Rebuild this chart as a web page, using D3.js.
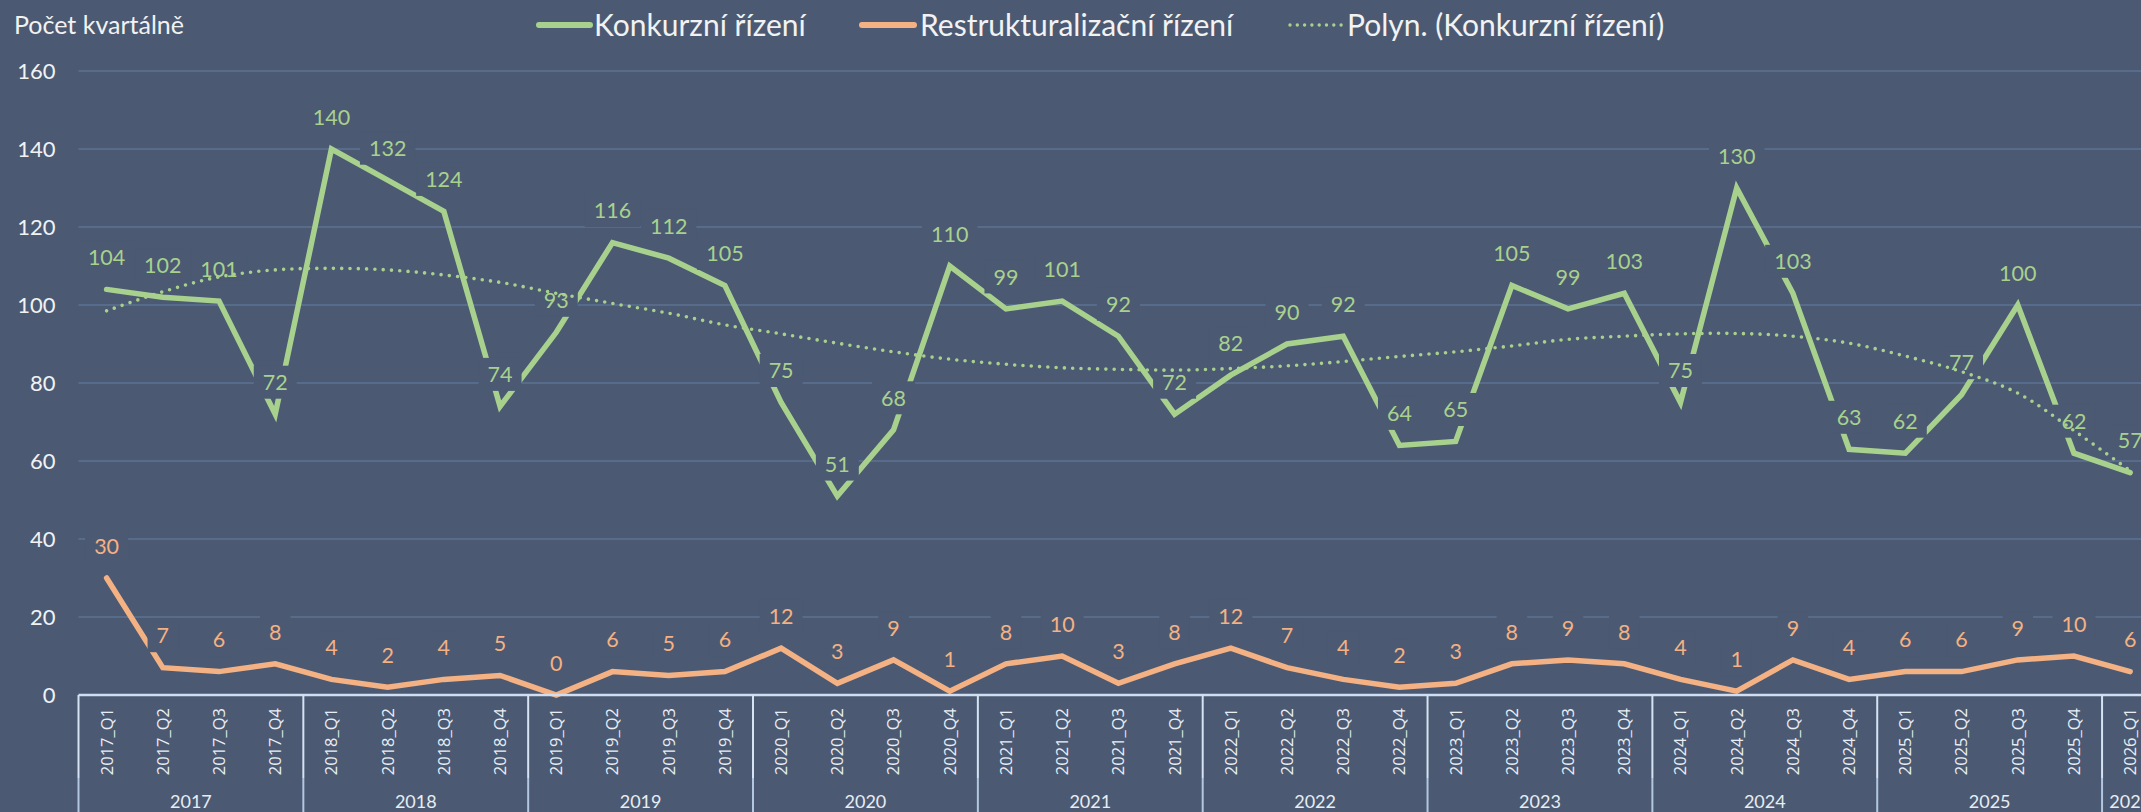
<!DOCTYPE html>
<html>
<head>
<meta charset="utf-8">
<script src="https://cdn.jsdelivr.net/npm/d3@7"></script>
<style>
  html, body { margin: 0; padding: 0; background: #4b5a72; overflow: hidden; }
  svg { display: block; }
  text { font-family: Lato, "Open Sans", sans-serif; }
</style>
</head>
<body>
<svg width="2141" height="812"></svg>
<script>
/* global d3 */

const quarters = [
  '2017_Q1', '2017_Q2', '2017_Q3', '2017_Q4',
  '2018_Q1', '2018_Q2', '2018_Q3', '2018_Q4',
  '2019_Q1', '2019_Q2', '2019_Q3', '2019_Q4',
  '2020_Q1', '2020_Q2', '2020_Q3', '2020_Q4',
  '2021_Q1', '2021_Q2', '2021_Q3', '2021_Q4',
  '2022_Q1', '2022_Q2', '2022_Q3', '2022_Q4',
  '2023_Q1', '2023_Q2', '2023_Q3', '2023_Q4',
  '2024_Q1', '2024_Q2', '2024_Q3', '2024_Q4',
  '2025_Q1', '2025_Q2', '2025_Q3', '2025_Q4',
  '2026_Q1',
];

const yearGroups = ['2017', '2018', '2019', '2020', '2021', '2022', '2023', '2024', '2025', '2026'];

const konkurz = [
  104, 102, 101, 72,
  140, 132, 124, 74,
  93, 116, 112, 105,
  75, 51, 68, 110,
  99, 101, 92, 72,
  82, 90, 92, 64,
  65, 105, 99, 103,
  75, 130, 103, 63,
  62, 77, 100, 62,
  57,
];

const restrukt = [
  30, 7, 6, 8,
  4, 2, 4, 5,
  0, 6, 5, 6,
  12, 3, 9, 1,
  8, 10, 3, 8,
  12, 7, 4, 2,
  3, 8, 9, 8,
  4, 1, 9, 4,
  6, 6, 9, 10,
  6,
];

// polynomial trendline of Konkurzní řízení
const trend = [
  98.5, 103.4, 107.2, 109, 109.4, 109, 107.7, 105.8,
  103, 100.4, 97.9, 94.9, 92.6, 90.2, 88, 86.1,
  84.8, 83.9, 83.5, 83.3, 83.7, 84.4, 85.5, 86.8,
  88, 89.5, 91.2, 92, 92.6, 92.7, 92, 90.2,
  86.9, 82.9, 77.4, 67.8, 57.5,
];

const yTicks = [0, 20, 40, 60, 80, 100, 120, 140, 160];

const seriesNames = ['Konkurzní řízení', 'Restrukturalizační řízení', 'Polyn. (Konkurzní řízení)'];

const BG = '#4b5a72';
const GREEN = '#a9d18e';
const ORANGE = '#f4b183';
const GRID = '#576c8b';
const AXIS = '#cfdff1';

const svg = d3.select('svg');

const left = 78.5;
const step = 56.21;
const x = d3.scaleBand()
      .domain(quarters)
      .range([left, left + quarters.length * step])
      .padding(0);
const y = d3.scaleLinear().domain([0, 160]).range([695, 71]);
const cx = d => x(d) + x.bandwidth() / 2;

// title
svg.append('text')
      .attr('x', 14)
      .attr('y', 25)
      .attr('dy', '0.36em')
      .style('font-size', '25px')
      .style('fill', '#f2f2f2')
      .text('Počet kvartálně');

// gridlines
svg.append('g')
      .selectAll('line')
      .data(yTicks.filter(d => d > 0))
      .enter()
      .append('line')
      .attr('x1', left)
      .attr('x2', 2141)
      .attr('y1', d => y(d))
      .attr('y2', d => y(d))
      .style('stroke', GRID)
      .style('stroke-width', '2px');

// y axis labels
const yAxis = svg.append('g')
      .attr('transform', `translate(${left},0)`)
      .call(d3.axisLeft(y).tickValues(yTicks).tickSize(0).tickPadding(23));
yAxis.select('.domain').remove();
yAxis.selectAll('text')
      .style('font-family', 'Lato, sans-serif')
      .style('font-size', '22px')
      .style('fill', '#f2f2f2');

// lines
const line = d3.line()
      .x((d, i) => cx(quarters[i]))
      .y(d => y(d));

svg.append('path')
      .datum(konkurz)
      .attr('d', line)
      .style('fill', 'none')
      .style('stroke', GREEN)
      .style('stroke-width', '5.5px')
      .style('stroke-linecap', 'round')
      .style('stroke-linejoin', 'miter');

svg.append('path')
      .datum(restrukt)
      .attr('d', line)
      .style('fill', 'none')
      .style('stroke', ORANGE)
      .style('stroke-width', '5.5px')
      .style('stroke-linecap', 'round')
      .style('stroke-linejoin', 'miter');

// data labels with background boxes
function addLabels(values, color) {
  const g = svg.append('g');
  values.forEach((v, i) => {
    const lx = cx(quarters[i]);
    const ly = y(v) - 32;
    const box = g.append('rect');
    const t = g.append('text')
          .attr('x', lx)
          .attr('y', ly)
          .attr('dy', '0.36em')
          .style('text-anchor', 'middle')
          .style('font-size', '21.5px')
          .style('fill', color)
          .text(v);
    const w = t.node().getComputedTextLength() + 18;
    box.attr('x', lx - w / 2)
          .attr('y', ly - 16.5)
          .attr('width', w)
          .attr('height', 33)
          .style('fill', BG);
  });
}
addLabels(konkurz, GREEN);
addLabels(restrukt, ORANGE);

// trendline
svg.append('path')
      .datum(trend)
      .attr('d', line.curve(d3.curveCatmullRom))
      .style('fill', 'none')
      .style('stroke', GREEN)
      .style('stroke-width', '3.6px')
      .style('stroke-linecap', 'round')
      .style('stroke-dasharray', '0 8.3');

// x axis: quarters
const xAxis = svg.append('g')
      .attr('transform', 'translate(0,695)')
      .call(d3.axisBottom(x).tickSize(0));
xAxis.select('.domain').remove();
xAxis.selectAll('text')
      .attr('transform', 'rotate(-90)')
      .attr('x', -13)
      .attr('y', 0)
      .attr('dy', '0.36em')
      .style('text-anchor', 'end')
      .style('font-family', '"Open Sans", sans-serif')
      .style('font-size', '16.5px')
      .style('fill', '#e8edf4');

// axis line
svg.append('line')
      .attr('x1', left)
      .attr('x2', 2141)
      .attr('y1', 695)
      .attr('y2', 695)
      .style('stroke', AXIS)
      .style('stroke-width', '2.5px');

// year groups
const groups = yearGroups.map((yr) => {
  const qs = quarters.filter(q => q.startsWith(yr));
  return { year: yr, x0: x(qs[0]), x1: x(qs[qs.length - 1]) + x.bandwidth() };
});
const sepXs = [groups[0].x0].concat(groups.map(g => g.x1));

svg.append('g')
      .selectAll('line')
      .data(sepXs)
      .enter()
      .append('line')
      .attr('x1', d => d)
      .attr('x2', d => d)
      .attr('y1', 695)
      .attr('y2', 778)
      .style('stroke', '#d6e3f2')
      .style('stroke-width', '2px');

svg.append('g')
      .selectAll('line')
      .data(sepXs)
      .enter()
      .append('line')
      .attr('x1', d => d)
      .attr('x2', d => d)
      .attr('y1', 778)
      .attr('y2', 812)
      .style('stroke', '#b3c7e0')
      .style('stroke-width', '2px');

svg.append('g')
      .selectAll('text')
      .data(groups)
      .enter()
      .append('text')
      .attr('x', d => (d.x0 + d.x1) / 2)
      .attr('y', 802)
      .attr('dy', '0.36em')
      .style('text-anchor', 'middle')
      .style('font-size', '18px')
      .style('fill', '#e8edf4')
      .text(d => d.year);

// legend
const legend = [
  { name: seriesNames[0], color: GREEN, x1: 539, x2: 590, tx: 594, dots: false },
  { name: seriesNames[1], color: ORANGE, x1: 862, x2: 914, tx: 920, dots: false },
  { name: seriesNames[2], color: GREEN, x1: 1290, x2: 1342, tx: 1347, dots: true },
];

const lg = svg.append('g')
      .selectAll('g')
      .data(legend)
      .enter()
      .append('g');

lg.append('line')
      .attr('x1', d => d.x1)
      .attr('x2', d => d.x2)
      .attr('y1', 25)
      .attr('y2', 25)
      .style('stroke', d => d.color)
      .style('stroke-width', d => (d.dots ? '3.4px' : '6px'))
      .style('stroke-linecap', 'round')
      .style('stroke-dasharray', d => (d.dots ? '0 7.3' : null));

lg.append('text')
      .attr('x', d => d.tx)
      .attr('y', 25)
      .attr('dy', '0.36em')
      .style('font-size', '30px')
      .style('fill', '#f2f2f2')
      .text(d => d.name);
</script>
</body>
</html>
